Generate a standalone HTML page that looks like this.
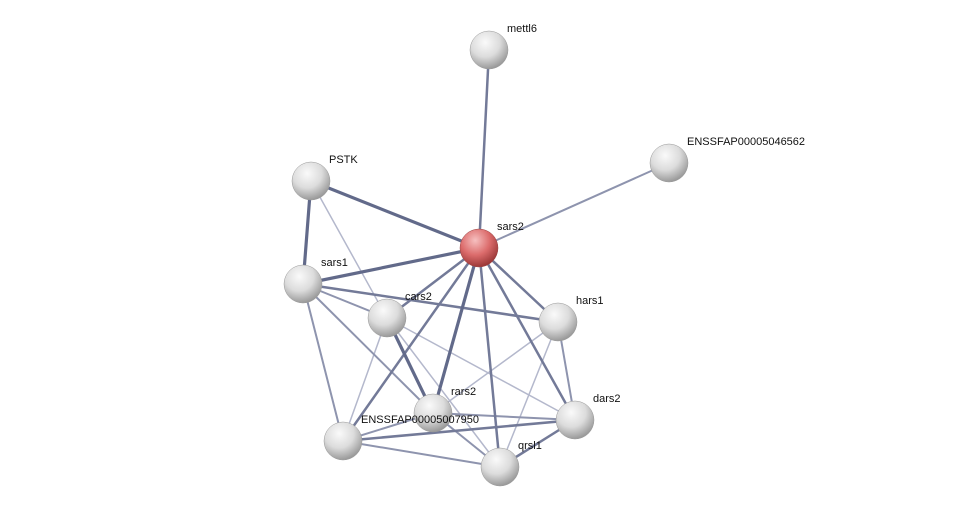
<!DOCTYPE html>
<html><head><meta charset="utf-8"><style>
html,body{margin:0;padding:0;background:#fff;}
svg{display:block;}
text{font-family:"Liberation Sans",sans-serif;font-size:11px;fill:#111;}
</style></head><body>
<svg width="976" height="512" viewBox="0 0 976 512" xmlns="http://www.w3.org/2000/svg">
<defs>
<radialGradient id="g" cx="40%" cy="30%" r="70%">
<stop offset="0" stop-color="#fafafa"/><stop offset="0.55" stop-color="#dcdcdc"/><stop offset="1" stop-color="#9a9a9a"/>
</radialGradient>
<radialGradient id="r" cx="40%" cy="30%" r="70%">
<stop offset="0" stop-color="#f6c0c0"/><stop offset="0.55" stop-color="#dc6c6c"/><stop offset="1" stop-color="#9c3838"/>
</radialGradient>
</defs>
<g stroke-linecap="round">
<g stroke="#b4b8cc" stroke-width="1.5">
<line x1="311" y1="181" x2="387" y2="318"/>
<line x1="387" y1="318" x2="500" y2="467"/>
<line x1="387" y1="318" x2="575" y2="420"/>
<line x1="558" y1="322" x2="433" y2="413"/>
<line x1="558" y1="322" x2="500" y2="467"/>
<line x1="387" y1="318" x2="343" y2="441"/>
</g>
<g stroke="#8e94ae" stroke-width="2">
<line x1="303" y1="284" x2="343" y2="441"/>
<line x1="303" y1="284" x2="433" y2="413"/>
<line x1="343" y1="441" x2="500" y2="467"/>
<line x1="343" y1="441" x2="433" y2="413"/>
<line x1="558" y1="322" x2="575" y2="420"/>
<line x1="433" y1="413" x2="500" y2="467"/>
<line x1="433" y1="413" x2="575" y2="420"/>
<line x1="669" y1="163" x2="479" y2="248"/>
<line x1="303" y1="284" x2="387" y2="318"/>
</g>
<g stroke="#737a98" stroke-width="2.5">
<line x1="303" y1="284" x2="558" y2="322"/>
<line x1="343" y1="441" x2="575" y2="420"/>
<line x1="500" y1="467" x2="575" y2="420"/>
<line x1="479" y1="248" x2="489" y2="50"/>
<line x1="479" y1="248" x2="387" y2="318"/>
<line x1="479" y1="248" x2="558" y2="322"/>
<line x1="479" y1="248" x2="343" y2="441"/>
<line x1="479" y1="248" x2="500" y2="467"/>
<line x1="479" y1="248" x2="575" y2="420"/>
</g>
<g stroke="#626a8a" stroke-width="3.2">
<line x1="311" y1="181" x2="303" y2="284"/>
<line x1="311" y1="181" x2="479" y2="248"/>
<line x1="303" y1="284" x2="479" y2="248"/>
<line x1="387" y1="318" x2="433" y2="413"/>
<line x1="479" y1="248" x2="433" y2="413"/>
</g>
</g>
<g>
<circle cx="489" cy="50" r="19" fill="url(#g)" stroke="#999" stroke-width="0.5"/>
<circle cx="669" cy="163" r="19" fill="url(#g)" stroke="#999" stroke-width="0.5"/>
<circle cx="311" cy="181" r="19" fill="url(#g)" stroke="#999" stroke-width="0.5"/>
<circle cx="479" cy="248" r="19" fill="url(#r)" stroke="#944" stroke-width="0.5"/>
<circle cx="303" cy="284" r="19" fill="url(#g)" stroke="#999" stroke-width="0.5"/>
<circle cx="387" cy="318" r="19" fill="url(#g)" stroke="#999" stroke-width="0.5"/>
<circle cx="558" cy="322" r="19" fill="url(#g)" stroke="#999" stroke-width="0.5"/>
<circle cx="433" cy="413" r="19" fill="url(#g)" stroke="#999" stroke-width="0.5"/>
<circle cx="575" cy="420" r="19" fill="url(#g)" stroke="#999" stroke-width="0.5"/>
<circle cx="343" cy="441" r="19" fill="url(#g)" stroke="#999" stroke-width="0.5"/>
<circle cx="500" cy="467" r="19" fill="url(#g)" stroke="#999" stroke-width="0.5"/>
</g>
<text x="507" y="32">mettl6</text>
<text x="687" y="145">ENSSFAP00005046562</text>
<text x="329" y="163">PSTK</text>
<text x="497" y="230">sars2</text>
<text x="321" y="266">sars1</text>
<text x="405" y="300">cars2</text>
<text x="576" y="304">hars1</text>
<text x="451" y="395">rars2</text>
<text x="593" y="402">dars2</text>
<text x="361" y="423">ENSSFAP00005007950</text>
<text x="518" y="449">qrsl1</text>
</svg>
</body></html>
